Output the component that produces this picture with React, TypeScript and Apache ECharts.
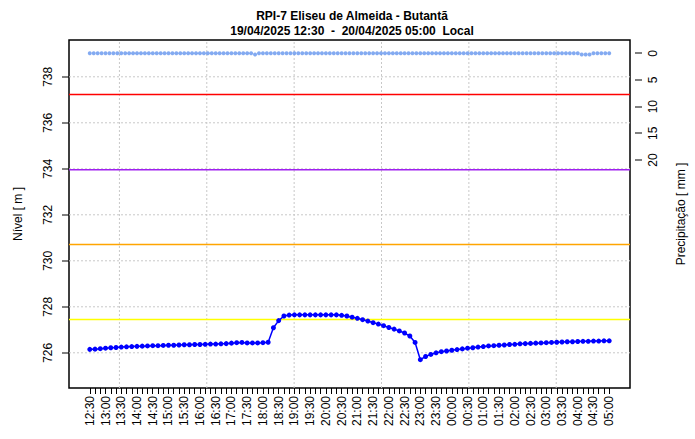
import React, { useEffect, useRef } from "react";
import * as echarts from "echarts";

const TITLE_LINE_1 = "RPI-7 Eliseu de Almeida - Butantã";
const TITLE_LINE_2 = "19/04/2025 12:30  -  20/04/2025 05:00  Local";
const LEFT_AXIS_NAME = "Nível [ m ]";
const RIGHT_AXIS_NAME = "Precipitação [ mm ]";

// start of the series: 12:30 (minutes after midnight)
const START_MINUTES = 12 * 60 + 30;
const LEVEL_STEP_MIN = 10;
const PRECIP_STEP_MIN = 7.5;

// water level (m), one reading every 10 min from 12:30 to 05:00
const levelValues = [
  726.15, 726.16, 726.18, 726.2, 726.22, 726.23, 726.25, 726.26, 726.27, 726.28,
  726.29, 726.3, 726.31, 726.31, 726.32, 726.33, 726.33, 726.34, 726.35, 726.35,
  726.36, 726.36, 726.37, 726.38, 726.38, 726.39, 726.4, 726.42, 726.44, 726.45,
  726.43, 726.43, 726.43, 726.44, 726.46, 727.09, 727.4, 727.6, 727.64, 727.65,
  727.65, 727.65, 727.65, 727.65, 727.65, 727.65, 727.65, 727.65, 727.63, 727.6,
  727.55, 727.5, 727.44, 727.38, 727.31, 727.25, 727.18, 727.1, 727.03, 726.95,
  726.86, 726.73, 726.45, 725.7, 725.84, 725.93, 726.0, 726.05, 726.08, 726.11,
  726.14, 726.17, 726.2, 726.22, 726.25, 726.27, 726.3, 726.31, 726.33, 726.34,
  726.36, 726.37, 726.39, 726.4, 726.41, 726.42, 726.43, 726.44, 726.45, 726.46,
  726.47, 726.48, 726.48, 726.49, 726.5, 726.5, 726.51, 726.51, 726.52, 726.52,
];

// precipitation (mm)
const precipValues = [
  0, 0, 0, 0, 0, 0, 0, 0, 0, 0, 0, 0, 0, 0, 0, 0, 0, 0, 0, 0,
  0, 0, 0, 0, 0, 0, 0, 0, 0, 0, 0, 0, 0, 0, 0, 0, 0, 0, 0, 0,
  0, 0, 0.2, 0, 0, 0, 0, 0, 0, 0, 0, 0, 0, 0, 0, 0, 0, 0, 0, 0,
  0, 0, 0, 0, 0, 0, 0, 0, 0, 0, 0, 0, 0, 0, 0, 0, 0, 0, 0, 0,
  0, 0, 0, 0, 0, 0, 0, 0, 0, 0, 0, 0, 0, 0, 0, 0, 0, 0, 0, 0,
  0, 0, 0, 0, 0, 0, 0, 0, 0, 0, 0, 0, 0, 0, 0, 0, 0, 0, 0, 0,
  0, 0, 0, 0, 0, 0.2, 0.2, 0.2, 0, 0, 0, 0, 0,
];

// reference levels (m): red, purple, orange, yellow
const thresholdValues = [737.23, 733.96, 730.71, 727.45];
const thresholdColors = ["#FF0000", "#A020F0", "#FFA500", "#FFFF00"];

const levelTicks = [726, 728, 730, 732, 734, 736, 738];
const precipTicks = [0, 5, 10, 15, 20];
const gridXMinutes = [56.5, 223, 389.5, 556, 722.5, 889];
const timeTickMinutes = Array.from({ length: 100 }, (_, i) => i * LEVEL_STEP_MIN);
const timeLabelMinutes = Array.from({ length: 34 }, (_, i) => i * 30);

const X_MIN = -39.6;
const X_MAX = 1029.6;
const Y_MIN = 724.47;
const Y_MAX = 739.6;
const P_MIN = -2.5;
const P_MAX = 62.75;

const GRID_LEFT = 69;
const GRID_TOP = 40;
const GRID_W = 566;
const GRID_H = 348;
const Y_TICK_PX = 7;

const FONT = "'Liberation Sans', Arial, Helvetica, sans-serif";

function fmtTime(m: number): string {
  const t = Math.round(START_MINUTES + m) % 1440;
  const h = Math.floor(t / 60);
  const mm = t % 60;
  return String(h).padStart(2, "0") + ":" + String(mm).padStart(2, "0");
}

export default function App() {
  const ref = useRef<HTMLDivElement>(null);
  useEffect(() => {
    if (!ref.current) return;
    const chart = echarts.init(ref.current, undefined, { renderer: "svg" });
    const gridLineStyle = { color: "#C8C8C8", type: [2, 2] as any, width: 1 };
    const plainLine = (data: number[][], lineStyle: any, z: number) => ({
      type: "line",
      yAxisIndex: 0,
      z,
      silent: true,
      symbol: "none",
      showSymbol: false,
      lineStyle,
      data,
    });
    const series: any[] = [];
    gridXMinutes.forEach((v) =>
      series.push(plainLine([[v, Y_MIN], [v, Y_MAX]], gridLineStyle, 1))
    );
    levelTicks.forEach((v) =>
      series.push(plainLine([[X_MIN, v], [X_MAX, v]], gridLineStyle, 1))
    );
    thresholdValues.forEach((v, i) =>
      series.push(
        plainLine([[X_MIN, v], [X_MAX, v]], { color: thresholdColors[i], width: 1.5, type: "solid" }, 2)
      )
    );
    series.push({
      type: "scatter",
      name: "precip",
      yAxisIndex: 1,
      z: 3,
      symbol: "circle",
      symbolSize: 4,
      itemStyle: { color: "#6495ED" },
      data: precipValues.map((v, i) => [i * PRECIP_STEP_MIN, v]),
    });
    series.push({
      type: "line",
      name: "level",
      yAxisIndex: 0,
      z: 4,
      symbol: "circle",
      symbolSize: 5,
      showSymbol: true,
      lineStyle: { color: "#0000FF", width: 1.5 },
      itemStyle: { color: "#0000FF" },
      data: levelValues.map((v, i) => [i * LEVEL_STEP_MIN, v]),
    });

    // y-axis tick marks (outside the box), same linear scales as the axes
    const levelToY = (v: number) => GRID_TOP + ((Y_MAX - v) / (Y_MAX - Y_MIN)) * GRID_H;
    const precipToY = (v: number) => GRID_TOP + ((v - P_MIN) / (P_MAX - P_MIN)) * GRID_H;
    const tickGraphics: any[] = [
      ...levelTicks.map((v) => ({
        type: "rect",
        silent: true,
        z: 100,
        shape: { x: GRID_LEFT - Y_TICK_PX, y: Math.round(levelToY(v)) - 0.5, width: Y_TICK_PX, height: 1 },
        style: { fill: "#000" },
      })),
      ...precipTicks.map((v) => ({
        type: "rect",
        silent: true,
        z: 100,
        shape: { x: GRID_LEFT + GRID_W, y: Math.round(precipToY(v)) - 0.5, width: Y_TICK_PX, height: 1 },
        style: { fill: "#000" },
      })),
    ];

    const tickStyle = { color: "#000", width: 1, type: "solid" };
    const titleText = (text: string, y: number) => ({
      type: "text",
      x: 352,
      y,
      style: {
        text,
        font: `bold 12px ${FONT}`,
        fill: "#000",
        align: "center",
        verticalAlign: "middle",
      },
    });
    chart.setOption({
      animation: false,
      backgroundColor: "#FFFFFF",
      textStyle: { fontFamily: FONT },
      grid: {
        show: true,
        left: GRID_LEFT,
        top: GRID_TOP,
        width: GRID_W,
        height: GRID_H,
        borderColor: "#000",
        borderWidth: 1.5,
        backgroundColor: "transparent",
      },
      graphic: [titleText(TITLE_LINE_1, 16), titleText(TITLE_LINE_2, 31), ...tickGraphics],
      xAxis: {
        type: "value",
        position: "bottom",
        min: X_MIN,
        max: X_MAX,
        axisLine: { show: false, onZero: false },
        splitLine: { show: false },
        axisTick: {
          show: true,
          inside: false,
          customValues: timeTickMinutes,
          length: 6,
          lineStyle: tickStyle,
        },
        axisLabel: {
          customValues: timeLabelMinutes,
          rotate: 90,
          margin: 8,
          fontSize: 12,
          color: "#000",
          fontFamily: FONT,
          formatter: (v: number) => fmtTime(v),
        },
      },
      yAxis: [
        {
          type: "value",
          min: Y_MIN,
          max: Y_MAX,
          position: "left",
          axisLine: { show: false, onZero: false },
          splitLine: { show: false },
          axisTick: { show: false },
          axisLabel: {
            customValues: levelTicks,
            rotate: 90,
            margin: 15,
            fontSize: 12,
            color: "#000",
            fontFamily: FONT,
          },
          name: LEFT_AXIS_NAME,
          nameLocation: "middle",
          nameRotate: 90,
          nameGap: 45,
          nameTextStyle: { fontSize: 12, color: "#000", fontFamily: FONT },
        },
        {
          type: "value",
          min: P_MIN,
          max: P_MAX,
          inverse: true,
          position: "right",
          axisLine: { show: false, onZero: false },
          splitLine: { show: false },
          axisTick: { show: false },
          axisLabel: {
            customValues: precipTicks,
            rotate: 90,
            margin: 17,
            fontSize: 12,
            color: "#000",
            fontFamily: FONT,
          },
          name: RIGHT_AXIS_NAME,
          nameLocation: "middle",
          nameRotate: 90,
          nameGap: 45,
          nameTextStyle: { fontSize: 12, color: "#000", fontFamily: FONT },
        },
      ],
      series,
    });
    return () => chart.dispose();
  }, []);
  return (
    <div
      ref={ref}
      style={{ position: "fixed", left: 0, top: 0, width: 695, height: 439, background: "#fff" }}
    />
  );
}
